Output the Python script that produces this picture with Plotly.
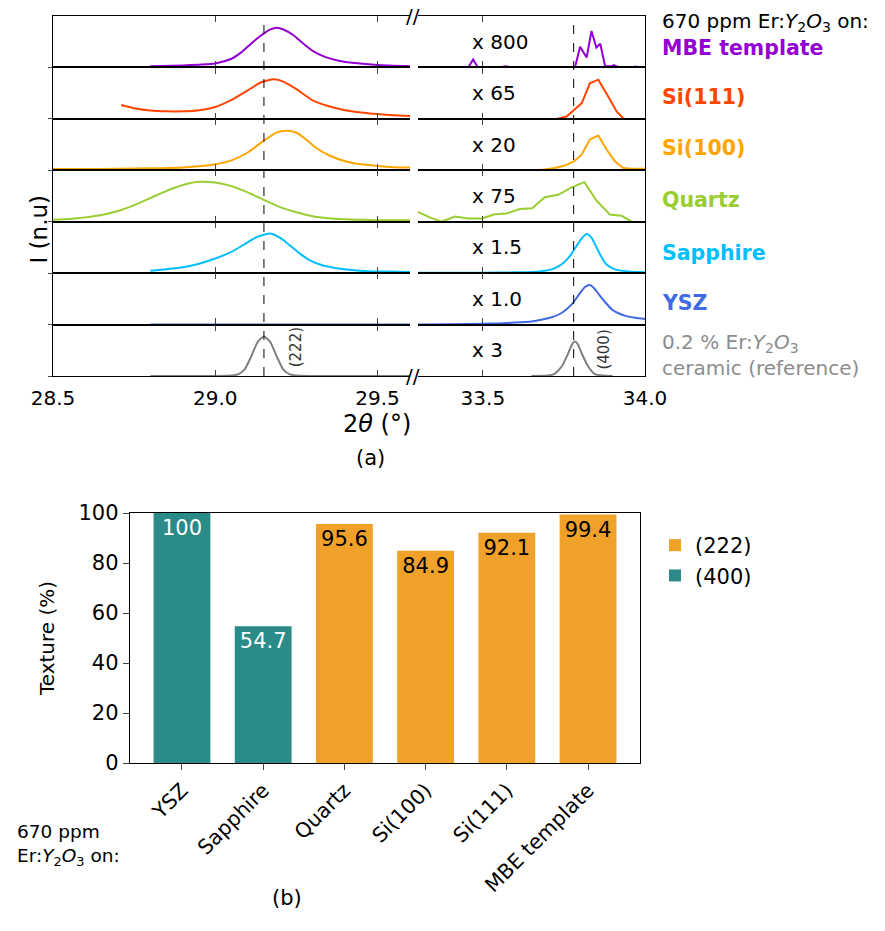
import plotly.graph_objects as go

W, H = 885, 931
FONT = "DejaVu Sans"

# ---------------- panel (a) data ----------------
row_names = ["MBE template", "Si(111)", "Si(100)", "Quartz", "Sapphire", "YSZ", "reference"]
row_colors = ["#9400D3", "#FF4500", "#FFA500", "#9ACD32", "#00BFFF", "#4169E1", "#808080"]
row_multipliers = ["x 800", "x 65", "x 20", "x 75", "x 1.5", "x 1.0", "x 3"]
peak_positions = [29.15, 33.78]
peak_labels = ["(222)", "(400)"]
peak_label_pos = [(29.248, 0.72), (33.875, 0.68)]
left_ticks = [28.5, 29.0, 29.5]
right_ticks = [33.5, 34.0]
left_range = [28.5, 29.6]
right_range = [33.3, 34.0]

# (222) region, left
mbe_l_t = [28.80, 28.90, 28.95, 29.00, 29.05, 29.08, 29.11, 29.14, 29.17, 29.19, 29.21, 29.24, 29.27, 29.30, 29.34, 29.38, 29.43, 29.50, 29.60]
mbe_l_i = [0.03, 0.05, 0.07, 0.10, 0.22, 0.38, 0.60, 0.80, 0.96, 1.00, 0.96, 0.82, 0.61, 0.42, 0.26, 0.17, 0.11, 0.06, 0.03]
si111_l_t = [28.71, 28.75, 28.80, 28.85, 28.90, 28.95, 29.00, 29.05, 29.10, 29.14, 29.18, 29.21, 29.25, 29.30, 29.35, 29.40, 29.45, 29.50, 29.55, 29.60]
si111_l_i = [0.35, 0.27, 0.21, 0.19, 0.19, 0.22, 0.30, 0.48, 0.72, 0.92, 1.00, 0.94, 0.75, 0.47, 0.32, 0.22, 0.16, 0.12, 0.09, 0.07]
si100_l_t = [28.50, 28.60, 28.70, 28.80, 28.90, 29.00, 29.05, 29.10, 29.15, 29.19, 29.22, 29.25, 29.28, 29.31, 29.35, 29.40, 29.45, 29.50, 29.55, 29.60]
si100_l_i = [0.03, 0.03, 0.04, 0.05, 0.07, 0.15, 0.25, 0.45, 0.75, 0.96, 1.00, 0.95, 0.78, 0.57, 0.38, 0.23, 0.15, 0.11, 0.08, 0.07]
quartz_l_t = [28.50, 28.55, 28.60, 28.65, 28.70, 28.75, 28.80, 28.85, 28.90, 28.95, 29.00, 29.05, 29.10, 29.15, 29.20, 29.25, 29.30, 29.35, 29.40, 29.45, 29.50, 29.60]
quartz_l_i = [0.05, 0.07, 0.11, 0.17, 0.27, 0.42, 0.60, 0.78, 0.93, 1.01, 0.99, 0.90, 0.74, 0.55, 0.37, 0.24, 0.14, 0.09, 0.06, 0.05, 0.04, 0.04]
sapph_l_t = [28.80, 28.85, 28.90, 28.95, 29.00, 29.05, 29.09, 29.12, 29.15, 29.17, 29.20, 29.23, 29.26, 29.29, 29.33, 29.37, 29.42, 29.47, 29.53, 29.60]
sapph_l_i = [0.06, 0.10, 0.15, 0.24, 0.37, 0.54, 0.73, 0.88, 0.97, 1.00, 0.89, 0.70, 0.50, 0.33, 0.20, 0.13, 0.08, 0.05, 0.04, 0.03]
ysz_l_t = [28.80, 29.00, 29.20, 29.40, 29.60]
ysz_l_i = [0.004, 0.004, 0.004, 0.004, 0.004]
ref_l_t = [28.80, 29.00, 29.05, 29.07, 29.09, 29.11, 29.13, 29.15, 29.17, 29.19, 29.21, 29.23, 29.25, 29.30, 29.60]
ref_l_i = [0.0, 0.0, 0.01, 0.04, 0.16, 0.48, 0.85, 1.00, 0.85, 0.48, 0.16, 0.04, 0.01, 0.0, 0.0]

# (400) region, right
mbe_r_t = [33.30, 33.40, 33.455, 33.47, 33.485, 33.55, 33.57, 33.59, 33.70, 33.784, 33.80, 33.82, 33.835, 33.85, 33.862, 33.877, 33.897, 33.904, 33.92, 33.96, 33.97, 33.98, 34.00]
mbe_r_i = [0.0, 0.0, 0.0, 0.20, 0.0, 0.0, 0.03, 0.0, 0.0, 0.0, 0.52, 0.25, 0.92, 0.50, 0.60, 0.03, 0.03, 0.06, 0.0, 0.0, 0.02, 0.0, 0.0]
si111_r_t = [33.727, 33.758, 33.782, 33.805, 33.830, 33.856, 33.887, 33.913, 33.935]
si111_r_i = [0.0, 0.06, 0.23, 0.40, 0.90, 0.99, 0.56, 0.18, 0.0]
si100_r_t = [33.655, 33.69, 33.722, 33.753, 33.782, 33.805, 33.830, 33.856, 33.882, 33.907, 33.933, 33.959, 34.00]
si100_r_i = [0.0, 0.02, 0.06, 0.12, 0.23, 0.40, 0.78, 0.88, 0.52, 0.23, 0.06, 0.04, 0.04]
quartz_r_t = [33.30, 33.336, 33.372, 33.414, 33.455, 33.496, 33.537, 33.573, 33.614, 33.652, 33.691, 33.732, 33.774, 33.813, 33.851, 33.892, 33.928, 33.959]
quartz_r_i = [0.25, 0.11, 0.0, 0.13, 0.08, 0.08, 0.19, 0.21, 0.32, 0.34, 0.62, 0.68, 0.87, 1.00, 0.53, 0.18, 0.15, 0.0]
sapph_r_t = [33.30, 33.40, 33.50, 33.60, 33.65, 33.68, 33.71, 33.73, 33.75, 33.77, 33.79, 33.805, 33.82, 33.835, 33.85, 33.865, 33.88, 33.90, 33.92, 33.95, 34.00]
sapph_r_i = [0.01, 0.01, 0.01, 0.02, 0.03, 0.05, 0.09, 0.16, 0.27, 0.45, 0.70, 0.88, 0.99, 0.90, 0.66, 0.42, 0.23, 0.12, 0.07, 0.04, 0.02]
ysz_r_t = [33.30, 33.40, 33.50, 33.55, 33.60, 33.65, 33.68, 33.71, 33.74, 33.76, 33.78, 33.80, 33.815, 33.83, 33.845, 33.86, 33.88, 33.90, 33.92, 33.94, 33.97, 34.00]
ysz_r_i = [0.0, 0.01, 0.02, 0.03, 0.05, 0.08, 0.12, 0.18, 0.28, 0.40, 0.57, 0.80, 0.95, 1.00, 0.90, 0.74, 0.54, 0.37, 0.28, 0.22, 0.17, 0.14]
ref_r_t = [33.65, 33.70, 33.72, 33.743, 33.763, 33.775, 33.784, 33.793, 33.805, 33.825, 33.845, 33.87, 33.90]
ref_r_i = [0.0, 0.01, 0.05, 0.24, 0.57, 0.80, 0.87, 0.80, 0.57, 0.24, 0.05, 0.01, 0.0]

left_theta = [mbe_l_t, si111_l_t, si100_l_t, quartz_l_t, sapph_l_t, ysz_l_t, ref_l_t]
left_int = [mbe_l_i, si111_l_i, si100_l_i, quartz_l_i, sapph_l_i, ysz_l_i, ref_l_i]
right_theta = [mbe_r_t, si111_r_t, si100_r_t, quartz_r_t, sapph_r_t, ysz_r_t, ref_r_t]
right_int = [mbe_r_i, si111_r_i, si100_r_i, quartz_r_i, sapph_r_i, ysz_r_i, ref_r_i]
right_shapes = ["linear", "linear", "linear", "linear", "spline", "spline", "spline"]

# ---------------- panel (b) data ----------------
bar_categories = ["YSZ", "Sapphire", "Quartz", "Si(100)", "Si(111)", "MBE template"]
texture_values = [100, 54.7, 95.6, 84.9, 92.1, 99.4]
texture_orientation = ["(400)", "(400)", "(222)", "(222)", "(222)", "(222)"]
orientation_order = ["(222)", "(400)"]
orientation_colors = {"(222)": "#f0a12a", "(400)": "#2a8b88"}
orientation_textcolors = {"(222)": "black", "(400)": "white"}
texture_ticks = [0, 20, 40, 60, 80, 100]


def ax(prefix, i):
    return prefix + ("" if i == 1 else str(i))


fig = go.Figure()
layout = dict(
    width=W, height=H, margin=dict(l=0, r=0, t=0, b=0, autoexpand=False),
    paper_bgcolor="white", plot_bgcolor="white",
    font=dict(family=FONT, color="black"),
    showlegend=True, barmode="overlay",
)

ROW_TOP = 16.0
ROW_H = 51.43
LEFT_DOM = [53 / W, 410 / W]
RIGHT_DOM = [418 / W, 645 / W]
annotations = []
shapes = []

for k in range(7):
    top = ROW_TOP + k * ROW_H
    bot = top + ROW_H
    yd = [1 - bot / H, 1 - top / H]
    li, ri = 2 * k + 1, 2 * k + 2
    common_x = dict(ticks="inside", ticklen=6, tickwidth=1.3, showline=True, mirror="ticks",
                    linecolor="black", linewidth=1.4, showgrid=False, zeroline=False, automargin=False,
                    showticklabels=(k == 6), tickfont=dict(size=20, family=FONT), ticklabelstandoff=4)
    layout[ax("xaxis", li)] = dict(domain=LEFT_DOM, range=left_range, anchor=ax("y", li),
                                   tickvals=left_ticks, ticktext=[f"{v:.1f}" for v in left_ticks], **common_x)
    layout[ax("xaxis", ri)] = dict(domain=RIGHT_DOM, range=right_range, anchor=ax("y", ri),
                                   tickvals=right_ticks, ticktext=[f"{v:.1f}" for v in right_ticks], **common_x)
    layout[ax("yaxis", li)] = dict(domain=yd, range=[0, 1.3], anchor=ax("x", li), showline=True,
                                   linecolor="black", linewidth=1.4, ticks="outside", tickvals=[0],
                                   ticklen=4, showticklabels=False, showgrid=False, zeroline=False,
                                   automargin=False)
    layout[ax("yaxis", ri)] = dict(domain=yd, range=[0, 1.3], anchor=ax("x", ri), side="right",
                                   showline=True, linecolor="black", linewidth=1.4, ticks="",
                                   showticklabels=False, showgrid=False, zeroline=False, automargin=False)

    fig.add_trace(go.Scatter(x=left_theta[k], y=left_int[k], mode="lines",
                             line=dict(color=row_colors[k], width=2, shape="spline", smoothing=0.6),
                             xaxis=ax("x", li), yaxis=ax("y", li), showlegend=False))
    fig.add_trace(go.Scatter(x=right_theta[k], y=right_int[k], mode="lines",
                             line=dict(color=row_colors[k], width=2, shape=right_shapes[k], smoothing=0.6),
                             xaxis=ax("x", ri), yaxis=ax("y", ri), showlegend=False))

    annotations.append(dict(text=row_multipliers[k], xref=ax("x", ri), yref=ax("y", ri),
                            x=33.46, y=0.65, xanchor="left", yanchor="middle", showarrow=False,
                            font=dict(size=20, family=FONT, color="black")))

# dashed peak-position lines across all rows
for j, pos in enumerate(peak_positions):
    shapes.append(dict(type="line", xref=ax("x", 1 + j), yref="paper", x0=pos, x1=pos,
                       y0=1 - (ROW_TOP + 7 * ROW_H) / H, y1=1 - ROW_TOP / H,
                       line=dict(color="black", width=1, dash="dash"), layer="above"))

# (222) / (400) labels in bottom row
for j, lab in enumerate(peak_labels):
    annotations.append(dict(text=lab, xref=ax("x", 13 + j), yref=ax("y", 13 + j),
                            x=peak_label_pos[j][0], y=peak_label_pos[j][1], textangle=-90,
                            showarrow=False, font=dict(size=15, family=FONT, color="#333333")))

# axis break marks
for ypx in [ROW_TOP, ROW_TOP + 7 * ROW_H]:
    annotations.append(dict(text="//", xref="paper", yref="paper", x=413 / W, y=1 - ypx / H,
                            showarrow=False, font=dict(size=20, family=FONT, color="black"),
                            xanchor="center", yanchor="middle"))

# sample labels on the right
annotations.append(dict(text="670 ppm Er:<i>Y</i><sub>2</sub><i>O</i><sub>3</sub> on:", xref="paper", yref="paper",
                        x=660 / W, y=1 - 22 / H, xanchor="left", yanchor="middle", showarrow=False,
                        font=dict(size=20, family=FONT, color="black")))
label_y = [48, 97, 148, 200, 253, 303]
for k in range(6):
    annotations.append(dict(text=f"<b>{row_names[k]}</b>", xref="paper", yref="paper",
                            x=660 / W, y=1 - label_y[k] / H, xanchor="left", yanchor="middle",
                            showarrow=False, font=dict(size=20.5, family=FONT, color=row_colors[k])))
annotations.append(dict(text="0.2 % Er:<i>Y</i><sub>2</sub><i>O</i><sub>3</sub>", xref="paper", yref="paper",
                        x=660 / W, y=1 - 343 / H, xanchor="left", yanchor="middle", showarrow=False,
                        font=dict(size=20, family=FONT, color="#8c8c8c")))
annotations.append(dict(text="ceramic (reference)", xref="paper", yref="paper",
                        x=660 / W, y=1 - 368 / H, xanchor="left", yanchor="middle", showarrow=False,
                        font=dict(size=20, family=FONT, color="#8c8c8c")))

# axis titles panel (a)
annotations.append(dict(text="2<i>θ</i> (°)", xref="paper", yref="paper", x=377 / W, y=1 - 424 / H,
                        showarrow=False, font=dict(size=24, family=FONT, color="black")))
annotations.append(dict(text="(a)", xref="paper", yref="paper", x=370 / W, y=1 - 458 / H,
                        showarrow=False, font=dict(size=21, family=FONT, color="black")))
annotations.append(dict(text="I (n.u)", xref="paper", yref="paper", x=23 / W, y=1 - 193 / H,
                        textangle=-90, showarrow=False, font=dict(size=23, family=FONT, color="black")))

# ---------------- panel (b) ----------------
for orient in orientation_order:
    idx = [i for i, o in enumerate(texture_orientation) if o == orient]
    xs = [bar_categories[i] for i in idx]
    ys = [texture_values[i] for i in idx]
    fig.add_trace(go.Bar(
        x=xs, y=ys, name=orient, width=0.7, marker=dict(color=orientation_colors[orient], line=dict(width=0)),
        text=[f"{v:g}" for v in ys], textposition="inside", insidetextanchor="end", textangle=0,
        insidetextfont=dict(size=21, family=FONT, color=orientation_textcolors[orient]),
        xaxis="x15", yaxis="y15", showlegend=True))

layout["xaxis15"] = dict(domain=[130 / W, 640 / W], anchor="y15", type="category",
                         categoryorder="array", categoryarray=bar_categories,
                         range=[-0.64, 5.64], tickangle=-45, ticks="outside", ticklen=6, tickwidth=1.3,
                         showline=True, mirror=True, linecolor="black", linewidth=1.4, showgrid=False,
                         automargin=False, tickfont=dict(size=20.5, family=FONT))
layout["yaxis15"] = dict(domain=[1 - 763 / H, 1 - 513 / H], anchor="x15", range=[0, 100],
                         tickvals=texture_ticks, ticks="outside", ticklen=6, tickwidth=1.3,
                         showline=True, mirror=True, linecolor="black", linewidth=1.4, showgrid=False,
                         zeroline=False, automargin=False, tickfont=dict(size=21, family=FONT),
                         title=dict(text="Texture (%)", font=dict(size=20, family=FONT), standoff=18))
layout["legend"] = dict(x=655 / W, y=1 - 525 / H, xanchor="left", yanchor="top",
                        font=dict(size=21, family=FONT), bgcolor="rgba(0,0,0,0)", traceorder="normal")

annotations.append(dict(text="670 ppm<br>Er:<i>Y</i><sub>2</sub><i>O</i><sub>3</sub> on:", xref="paper", yref="paper",
                        x=15 / W, y=1 - 845 / H, xanchor="left", yanchor="middle", align="left",
                        showarrow=False, font=dict(size=18.5, family=FONT, color="black")))
annotations.append(dict(text="(b)", xref="paper", yref="paper", x=270 / W, y=1 - 912 / H,
                        showarrow=False, font=dict(size=21, family=FONT, color="black")))

layout["annotations"] = annotations
layout["shapes"] = shapes
fig.update_layout(**layout)
fig.write_html("out.html")
